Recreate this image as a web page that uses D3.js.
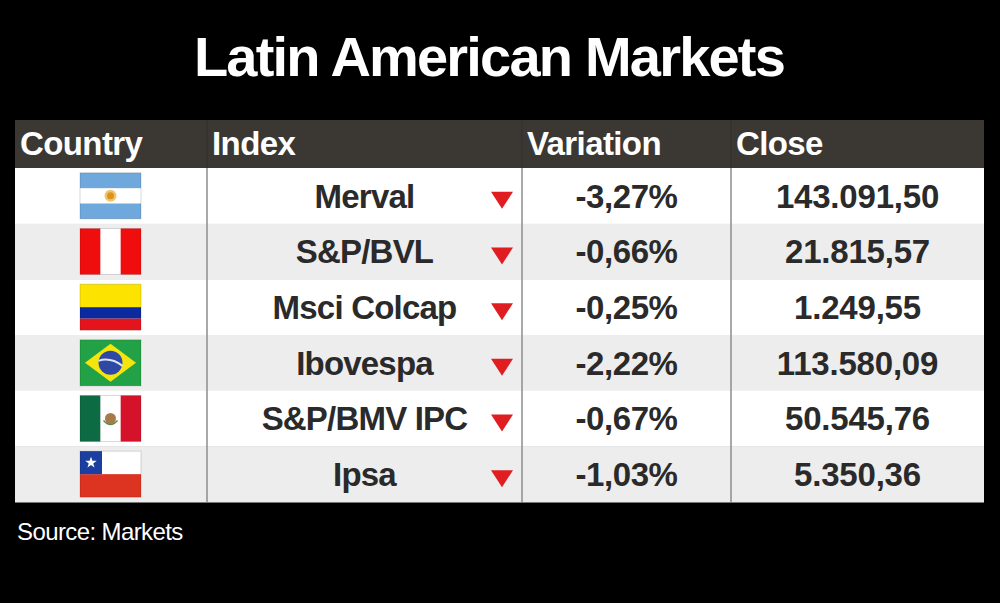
<!DOCTYPE html>
<html>
<head>
<meta charset="utf-8">
<title>Latin American Markets</title>
<script src="https://cdn.jsdelivr.net/npm/d3@7"></script>
<style>
  html, body { margin: 0; padding: 0; background: #000; }
  svg { display: block; font-family: "Liberation Sans", Arial, sans-serif; }
</style>
</head>
<body>
<div id="chart"></div>
<script>
// table contents
var headers = ["Country", "Index", "Variation", "Close"];
var countries = ["Argentina", "Peru", "Colombia", "Brazil", "Mexico", "Chile"];
var indexNames = ["Merval", "S&P/BVL", "Msci Colcap", "Ibovespa", "S&P/BMV IPC", "Ipsa"];
var variations = ["-3,27%", "-0,66%", "-0,25%", "-2,22%", "-0,67%", "-1,03%"];
var closes = ["143.091,50", "21.815,57", "1.249,55", "113.580,09", "50.545,76", "5.350,36"];

var width = 1000, height = 603;
var colEdges = [15, 207, 522, 731, 984];
var headTop = 120, headBottom = 168, tableBottom = 502;

var svg = d3.select("#chart")
  .append("svg")
  .attr("width", width)
  .attr("height", height)
  .attr("viewBox", [0, 0, width, height]);

svg.append("rect").attr("width", width).attr("height", height).attr("fill", "#000");

svg.append("text")
  .attr("x", 489).attr("y", 76)
  .attr("text-anchor", "middle")
  .attr("fill", "#fff")
  .attr("font-weight", "bold")
  .attr("font-size", 56)
  .attr("letter-spacing", -1.8)
  .text("Latin American Markets");

var y = d3.scaleBand()
  .domain(d3.range(countries.length))
  .range([headBottom, tableBottom]);

var rows = countries.map((c, i) => ({
  country: c, index: indexNames[i], variation: variations[i], close: closes[i], i: i
}));

// header
svg.append("rect")
  .attr("x", colEdges[0]).attr("y", headTop)
  .attr("width", colEdges[4] - colEdges[0]).attr("height", headBottom - headTop)
  .attr("fill", "#3b3733");

svg.selectAll(".head")
  .data(headers)
  .join("text")
    .attr("class", "head")
    .attr("x", (d, i) => colEdges[i] + 5)
    .attr("y", 155)
    .attr("fill", "#fff")
    .attr("font-weight", "bold")
    .attr("font-size", 33)
    .attr("letter-spacing", -0.6)
    .text(d => d);

// body rows
var row = svg.selectAll(".row")
  .data(rows)
  .join("g")
    .attr("class", "row")
    .attr("transform", d => `translate(0,${y(d.i)})`);

row.append("rect")
  .attr("x", colEdges[0])
  .attr("width", colEdges[4] - colEdges[0])
  .attr("height", y.bandwidth() + 0.5)
  .attr("fill", d => d.i % 2 ? "#ededed" : "#fff");

var mid = y.bandwidth() / 2;

function cellText(sel, col, key, spacing) {
  sel.append("text")
    .attr("x", (colEdges[col] + colEdges[col + 1]) / 2)
    .attr("y", mid + 12)
    .attr("text-anchor", "middle")
    .attr("fill", "#2a2a2a")
    .attr("font-weight", "bold")
    .attr("font-size", 33)
    .attr("letter-spacing", spacing)
    .text(d => d[key]);
}
cellText(row, 1, "index", -0.8);
cellText(row, 2, "variation", -0.4);
cellText(row, 3, "close", -0.2);

// down arrows
row.append("path")
  .attr("d", "M491,-4 L513,-4 L502,13 Z")
  .attr("transform", `translate(0,${mid})`)
  .attr("fill", "#e01e22");

// dividers
svg.selectAll(".div")
  .data(colEdges.slice(1, 4))
  .join("line")
    .attr("class", "div")
    .attr("x1", d => d).attr("x2", d => d)
    .attr("y1", headTop).attr("y2", tableBottom)
    .attr("stroke", "#8c8c8c")
    .attr("stroke-width", 1.5);

svg.selectAll(".hdiv")
  .data(colEdges.slice(1, 4))
  .join("line")
    .attr("class", "hdiv")
    .attr("x1", d => d).attr("x2", d => d)
    .attr("y1", headTop).attr("y2", headBottom)
    .attr("stroke", "#1f1d1b")
    .attr("stroke-width", 1.5);

// flags
var fw = 61, fh = 46;
var flag = row.append("g")
  .attr("transform", `translate(80,${mid - fh / 2})`);

var drawFlag = {
  Argentina: g => {
    g.append("rect").attr("width", fw).attr("height", fh).attr("fill", "#fff");
    g.append("rect").attr("width", fw).attr("height", fh / 3).attr("fill", "#6fa8dc");
    g.append("rect").attr("y", fh * 2 / 3).attr("width", fw).attr("height", fh / 3).attr("fill", "#6fa8dc");
    g.append("circle").attr("cx", fw / 2).attr("cy", fh / 2).attr("r", 6).attr("fill", "#f2c46b");
    g.append("circle").attr("cx", fw / 2).attr("cy", fh / 2).attr("r", 3.5).attr("fill", "#d9951f");
  },
  Peru: g => {
    g.append("rect").attr("width", fw).attr("height", fh).attr("fill", "#fff");
    g.append("rect").attr("width", fw / 3).attr("height", fh).attr("fill", "#f00d0d");
    g.append("rect").attr("x", fw * 2 / 3).attr("width", fw / 3).attr("height", fh).attr("fill", "#f00d0d");
  },
  Colombia: g => {
    g.append("rect").attr("width", fw).attr("height", fh / 2).attr("fill", "#fde400");
    g.append("rect").attr("y", fh / 2).attr("width", fw).attr("height", fh / 4).attr("fill", "#0b2aa0");
    g.append("rect").attr("y", fh * 3 / 4).attr("width", fw).attr("height", fh / 4).attr("fill", "#e3141c");
  },
  Brazil: g => {
    g.append("rect").attr("width", fw).attr("height", fh).attr("fill", "#22a146");
    g.append("path")
      .attr("d", `M${fw / 2},4 L${fw - 5},${fh / 2} L${fw / 2},${fh - 4} L5,${fh / 2} Z`)
      .attr("fill", "#f5e50c");
    g.append("circle").attr("cx", fw / 2).attr("cy", fh / 2).attr("r", 12).attr("fill", "#2d48a5");
    g.append("path")
      .attr("d", `M${fw / 2 - 12},${fh / 2 - 2} Q${fw / 2},${fh / 2 - 6} ${fw / 2 + 12},${fh / 2 + 3}`)
      .attr("fill", "none").attr("stroke", "#dfe6f5").attr("stroke-width", 2);
  },
  Mexico: g => {
    g.append("rect").attr("width", fw).attr("height", fh).attr("fill", "#fff");
    g.append("rect").attr("width", fw / 3).attr("height", fh).attr("fill", "#0c6b43");
    g.append("rect").attr("x", fw * 2 / 3).attr("width", fw / 3).attr("height", fh).attr("fill", "#d4132b");
    g.append("circle").attr("cx", fw / 2).attr("cy", fh / 2).attr("r", 5.5).attr("fill", "#a87a4a");
    g.append("path")
      .attr("d", `M${fw / 2 - 7},${fh / 2 + 2} Q${fw / 2},${fh / 2 + 10} ${fw / 2 + 7},${fh / 2 + 2}`)
      .attr("fill", "none").attr("stroke", "#5b8a4a").attr("stroke-width", 1.5);
  },
  Chile: g => {
    g.append("rect").attr("width", fw).attr("height", fh / 2).attr("fill", "#fff");
    g.append("rect").attr("y", fh / 2).attr("width", fw).attr("height", fh / 2).attr("fill", "#dd3321");
    g.append("rect").attr("width", 22).attr("height", fh / 2).attr("fill", "#1a3fa0");
    var star = d3.range(10).map(k => {
      var r = k % 2 ? 2.4 : 6, a = -Math.PI / 2 + k * Math.PI / 5;
      return [11 + r * Math.cos(a), fh / 4 + r * Math.sin(a)];
    });
    g.append("path").attr("d", d3.line()(star) + "Z").attr("fill", "#fff");
  }
};

flag.each(function(d) { drawFlag[d.country](d3.select(this)); });

flag.append("rect")
  .attr("width", fw).attr("height", fh)
  .attr("fill", "none").attr("stroke", "rgba(0,0,0,0.15)").attr("stroke-width", 1);

svg.append("text")
  .attr("x", 17).attr("y", 540)
  .attr("fill", "#fff")
  .attr("font-size", 24)
  .attr("letter-spacing", -0.6)
  .text("Source: Markets");
</script>
</body>
</html>
